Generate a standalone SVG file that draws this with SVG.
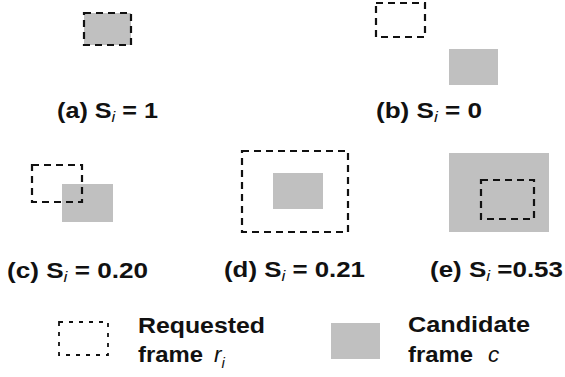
<svg xmlns="http://www.w3.org/2000/svg" width="565" height="377" viewBox="0 0 565 377">
  <style>
    .cand { fill: #c0c0c0; stroke: none; }
    .req { fill: none; stroke: #111; stroke-width: 2.2; stroke-dasharray: 7 5; }
    .lbl { font-family: "Liberation Sans", Arial, sans-serif; font-weight: bold; font-size: 22.5px; fill: #111; }
    .sub { font-style: italic; font-weight: normal; font-size: 15px; }
    .var { font-style: italic; font-weight: normal; }
  </style>
  <rect width="565" height="377" fill="#fff"/>

  <!-- (a) identical frames -->
  <g id="case-a">
    <rect class="cand" x="84" y="13" width="47" height="32"/>
    <rect class="req" x="84" y="13" width="47" height="32"/>
    <text class="lbl" x="57" y="118" textLength="101" lengthAdjust="spacingAndGlyphs">(a) S<tspan class="sub" dy="4">i</tspan><tspan dy="-4"> = 1</tspan></text>
  </g>

  <!-- (b) disjoint frames -->
  <g id="case-b">
    <rect class="req" x="376" y="3" width="49" height="34"/>
    <rect class="cand" x="449" y="49" width="49" height="36"/>
    <text class="lbl" x="376" y="118" textLength="106" lengthAdjust="spacingAndGlyphs">(b) S<tspan class="sub" dy="4">i</tspan><tspan dy="-4"> = 0</tspan></text>
  </g>

  <!-- (c) partial overlap -->
  <g id="case-c">
    <rect class="cand" x="62" y="184" width="51" height="38"/>
    <rect class="req" x="32" y="165" width="50" height="37"/>
    <text class="lbl" x="7" y="278" textLength="141" lengthAdjust="spacingAndGlyphs">(c) S<tspan class="sub" dy="4">i</tspan><tspan dy="-4"> = 0.20</tspan></text>
  </g>

  <!-- (d) candidate inside requested -->
  <g id="case-d">
    <rect class="req" x="242" y="151" width="106" height="81"/>
    <rect class="cand" x="273" y="173" width="50" height="36"/>
    <text class="lbl" x="224" y="277" textLength="141" lengthAdjust="spacingAndGlyphs">(d) S<tspan class="sub" dy="4">i</tspan><tspan dy="-4"> = 0.21</tspan></text>
  </g>

  <!-- (e) requested inside candidate -->
  <g id="case-e">
    <rect class="cand" x="449" y="153" width="100" height="79"/>
    <rect class="req" x="481" y="180" width="53" height="39"/>
    <text class="lbl" x="430" y="277" textLength="133" lengthAdjust="spacingAndGlyphs">(e) S<tspan class="sub" dy="4">i</tspan><tspan dy="-4"> =0.53</tspan></text>
  </g>

  <!-- legend -->
  <g id="legend-requested">
    <rect class="req" x="59" y="322" width="49" height="33" style="stroke-width:1.8;stroke-dasharray:4 6"/>
    <text class="lbl" x="138" y="333" textLength="127" lengthAdjust="spacingAndGlyphs">Requested</text>
    <text class="lbl" x="138" y="362" textLength="65" lengthAdjust="spacingAndGlyphs">frame</text>
    <text class="lbl var" x="214" y="362">r<tspan class="sub" dy="6">i</tspan></text>
  </g>
  <g id="legend-candidate">
    <rect class="cand" x="331" y="323" width="49" height="36"/>
    <text class="lbl" x="408" y="332" textLength="122" lengthAdjust="spacingAndGlyphs">Candidate</text>
    <text class="lbl" x="408" y="362" textLength="65" lengthAdjust="spacingAndGlyphs">frame</text>
    <text class="lbl var" x="488" y="362">c</text>
  </g>
</svg>
